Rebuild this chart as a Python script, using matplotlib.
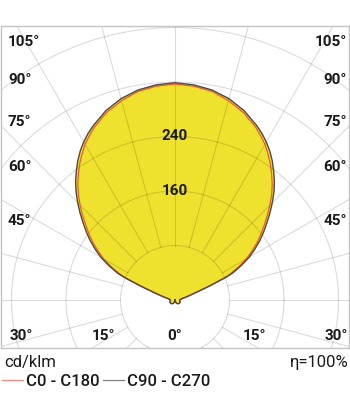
import numpy as np
import matplotlib.pyplot as plt

plt.rcParams['font.family'] = ['Roboto', 'DejaVu Sans']

# luminous intensity (cd/klm) vs gamma angle (deg), symmetric planes
gamma = [0, 10, 20, 30, 40, 50, 60, 70, 80, 90, 100, 105, 108, 110, 112, 114,
         115, 117.5, 120, 122.5, 125, 127.5, 130, 132.5, 135, 137.5, 140,
         142.5, 145, 147.5, 150, 152.5, 155, 160, 165, 170, 175, 180]
c90_c270 = [0, 2, 4, 6, 7, 8, 8, 8, 7, 7, 10, 18, 26, 36, 55, 82,
            93, 110, 126, 139, 152, 164, 176, 189, 202, 215, 227,
            238, 249, 259, 268, 276, 283, 296, 306, 313, 317, 319]
c0_c180 = [0, 2, 4, 6, 7, 8, 8, 8, 7, 7, 8, 15, 23, 32, 51, 77,
           88, 105, 121, 134, 147, 159, 171, 184, 197, 210, 222,
           233, 244, 254, 264, 272, 280, 293, 303, 311, 315, 317]

rings = [80, 160, 240, 320, 400, 480]
ring_labels = [160, 240]
spokes = np.arange(0, 360, 15)

left_labels = ['105°', '90°', '75°', '60°', '45°']
bottom_labels = ['30°', '15°', '0°', '15°', '30°']


def to_xy(g, r):
    g = np.radians(g)
    return np.asarray(r) * np.sin(g), -np.asarray(r) * np.cos(g)


def closed_curve(g, r):
    g = np.asarray(g, float)
    r = np.asarray(r, float)
    xr, yr = to_xy(g, r)
    xl, yl = to_xy(-g[::-1], r[::-1])
    return np.concatenate([xr, xl]), np.concatenate([yr, yl])


W, H = 350, 395
fig = plt.figure(figsize=(W / 100, H / 100), dpi=100)
ax = fig.add_axes([1 / W, (H - 348) / H, 348 / W, 322 / H])

k = 0.68125  # px per cd/klm
ax.set_xlim(-174 / k, 174 / k)
ax.set_ylim(-48 / k, 274 / k)
ax.set_xticks([])
ax.set_yticks([])
for s in ax.spines.values():
    s.set_color('#c4c4c4')
    s.set_linewidth(1.0)

xb, yb = closed_curve(gamma, c90_c270)
ax.fill(xb, yb, color='#efe22f', lw=0, zorder=1)

t = np.linspace(0, 2 * np.pi, 400)
for r in rings:
    ax.plot(r * np.cos(t), r * np.sin(t), color='k', alpha=0.14, lw=0.8, zorder=2)
for a in spokes:
    x0, y0 = to_xy(a, rings[0])
    x1, y1 = to_xy(a, 800)
    ax.plot([x0, x1], [y0, y1], color='k', alpha=0.14, lw=0.8, zorder=2)

xr, yr = closed_curve(gamma, c0_c180)
ax.plot(xr, yr, color='#ee5a2a', lw=0.9, zorder=3)
ax.plot(xb, yb, color='#4a4a4a', lw=1.0, zorder=4)

for v in ring_labels:
    ax.text(0, v, str(v), ha='center', va='center', fontsize=11,
            fontweight='semibold', color='#1a1a1a', zorder=5)


def fx(px):
    return px / W


def fy(py):
    return 1 - py / H


for lab, py in zip(left_labels, [42, 80, 122, 167, 221]):
    fig.text(fx(8), fy(py), lab, ha='left', va='center', fontsize=11,
             fontweight='semibold', color='#1a1a1a')
    fig.text(fx(347), fy(py), lab, ha='right', va='center', fontsize=11,
             fontweight='semibold', color='#1a1a1a')
for lab, px in zip(bottom_labels, [21, 103, 175, 254, 336]):
    fig.text(fx(px), fy(336), lab, ha='center', va='center', fontsize=11,
             fontweight='semibold', color='#1a1a1a')

fig.text(fx(4), fy(363), 'cd/klm', ha='left', va='center', fontsize=12, color='#1a1a1a')
fig.text(fx(349), fy(363), 'η=100%', ha='right', va='center', fontsize=12, color='#1a1a1a')

h1, = ax.plot([], [], color='#f08a80', lw=0.9)
h2, = ax.plot([], [], color='#808080', lw=0.9)
fig.legend([h1, h2], ['C0 - C180', 'C90 - C270'], loc='center left',
           bbox_to_anchor=(0, fy(381)), ncol=2, frameon=False,
           handlelength=1.3, handletextpad=0.15, columnspacing=0.2,
           borderaxespad=0, borderpad=0.1, labelcolor='#1a1a1a',
           prop={'weight': 'medium', 'size': 12})

fig.savefig('out.png', dpi=100)
